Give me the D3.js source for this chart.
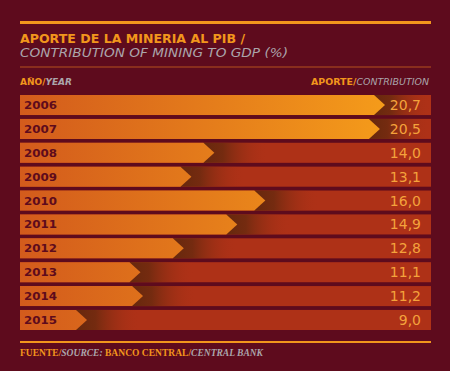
<!DOCTYPE html>
<html>
<head>
<meta charset="utf-8">
<script src="https://cdn.jsdelivr.net/npm/d3@7"></script>
<style>
  html, body { margin: 0; padding: 0; background: #5e0b1d; }
  svg { display: block; }
</style>
</head>
<body>
<div id="chart"></div>
<script>
"use strict";

// data
const years = ["2006", "2007", "2008", "2009", "2010", "2011", "2012", "2013", "2014", "2015"];
const values = [20.7, 20.5, 14.0, 13.1, 16.0, 14.9, 12.8, 11.1, 11.2, 9.0];

const W = 450, H = 371;
const BAR = { x0: 20, x1: 431, top: 95, bottom: 330, head: 11, shade: 65 };

const svg = d3.select("#chart").append("svg")
	.attr("width", W)
	.attr("height", H);

svg.append("rect").attr("width", W).attr("height", H).attr("fill", "#5e0b1d");

const defs = svg.append("defs");

// orange arrow fill, over the whole bar width
const ga = defs.append("linearGradient")
	.attr("id", "arrowGrad")
	.attr("gradientUnits", "userSpaceOnUse")
	.attr("x1", BAR.x0).attr("x2", 390).attr("y1", 0).attr("y2", 0);
ga.append("stop").attr("offset", "0%").attr("stop-color", "#d35b1c");
ga.append("stop").attr("offset", "100%").attr("stop-color", "#f59c1a");

// dark shadow behind arrow head
const gs = defs.append("linearGradient").attr("id", "shadeGrad");
gs.append("stop").attr("offset", "0%").attr("stop-color", "#66280d").attr("stop-opacity", 1);
gs.append("stop").attr("offset", "30%").attr("stop-color", "#6e2a0f").attr("stop-opacity", 0.9);
gs.append("stop").attr("offset", "100%").attr("stop-color", "#ae3117").attr("stop-opacity", 0);

// top rule + titles
svg.append("rect").attr("x", 20).attr("y", 21).attr("width", 411).attr("height", 3).attr("fill", "#f2961c");

svg.append("text")
	.attr("x", 20).attr("y", 43)
	.attr("font-family", "'DejaVu Sans', sans-serif")
	.attr("font-weight", "bold")
	.attr("font-size", 13)
	.attr("fill", "#f2961c")
	.attr("textLength", 225)
	.attr("lengthAdjust", "spacingAndGlyphs")
	.text("APORTE DE LA MINERIA AL PIB /");

svg.append("text")
	.attr("x", 20).attr("y", 57)
	.attr("font-family", "'DejaVu Sans', sans-serif")
	.attr("font-style", "italic")
	.attr("font-size", 13)
	.attr("fill", "#aba5ab")
	.attr("textLength", 268)
	.attr("lengthAdjust", "spacingAndGlyphs")
	.text("CONTRIBUTION OF MINING TO GDP (%)");

svg.append("rect").attr("x", 20).attr("y", 66.5).attr("width", 411).attr("height", 1).attr("fill", "#b4521e");

// column headers
const hl = svg.append("text")
	.attr("x", 20).attr("y", 85)
	.attr("font-family", "'DejaVu Sans', sans-serif")
	.attr("font-weight", "bold")
	.attr("font-size", 8.5)
	.attr("textLength", 52)
	.attr("lengthAdjust", "spacingAndGlyphs");
hl.append("tspan").attr("fill", "#f2961c").text("AÑO/");
hl.append("tspan").attr("fill", "#aba5ab").attr("font-style", "italic").text("YEAR");

const hr = svg.append("text")
	.attr("x", 311).attr("y", 85)
	.attr("font-family", "'DejaVu Sans', sans-serif")
	.attr("font-weight", "bold")
	.attr("font-size", 8.5)
	.attr("textLength", 118)
	.attr("lengthAdjust", "spacingAndGlyphs");
hr.append("tspan").attr("fill", "#f2961c").text("APORTE/");
hr.append("tspan").attr("fill", "#aba5ab").attr("font-style", "italic").attr("font-weight", "normal").text("CONTRIBUTION");

// scales
const y = d3.scaleBand()
	.domain(years)
	.range([BAR.top, BAR.bottom])
	.paddingInner(0.16)
	.paddingOuter(0);

const x = d3.scaleLinear()
	.domain([9, 20.7])
	.range([87, 385]);

const rows = svg.append("g").selectAll("g")
	.data(years.map((yr, i) => ({ year: yr, value: values[i] })))
	.join("g")
	.attr("transform", d => `translate(0,${y(d.year)})`);

const bh = y.bandwidth();

rows.append("rect")
	.attr("x", BAR.x0).attr("y", 0)
	.attr("width", BAR.x1 - BAR.x0).attr("height", bh)
	.attr("fill", "#ae3117");

rows.append("rect")
	.attr("x", d => x(d.value) - BAR.head)
	.attr("y", 0)
	.attr("width", d => Math.min(BAR.shade, BAR.x1 - x(d.value) + BAR.head))
	.attr("height", bh)
	.attr("fill", "url(#shadeGrad)");

rows.append("path")
	.attr("fill", "url(#arrowGrad)")
	.attr("d", d => {
		const tip = x(d.value), sh = tip - BAR.head;
		return `M${BAR.x0},0H${sh}L${tip},${bh / 2}L${sh},${bh}H${BAR.x0}Z`;
	});

rows.append("text")
	.attr("x", 24).attr("y", bh / 2 + 4)
	.attr("font-family", "'DejaVu Sans', sans-serif")
	.attr("font-weight", "bold")
	.attr("font-size", 11)
	.attr("fill", "#5e0b1d")
	.attr("textLength", 33)
	.attr("lengthAdjust", "spacingAndGlyphs")
	.text(d => d.year);

const fmt = d3.format(".1f");
rows.append("text")
	.attr("x", 421).attr("y", bh / 2 + 5)
	.attr("text-anchor", "end")
	.attr("font-family", "'DejaVu Sans', sans-serif")
	.attr("font-size", 14)
	.attr("fill", "#f4a23c")
	.text(d => fmt(d.value).replace(".", ","));

// footer
svg.append("rect").attr("x", 20).attr("y", 341).attr("width", 411).attr("height", 2).attr("fill", "#f2961c");

const ft = svg.append("text")
	.attr("x", 20).attr("y", 356)
	.attr("font-family", "'Liberation Serif', serif")
	.attr("font-weight", "bold")
	.attr("font-size", 9.5)
	.attr("textLength", 243)
	.attr("lengthAdjust", "spacingAndGlyphs");
ft.append("tspan").attr("fill", "#f2961c").text("FUENTE/");
ft.append("tspan").attr("fill", "#aba5ab").attr("font-style", "italic").text("SOURCE:");
ft.append("tspan").attr("fill", "#f2961c").text(" BANCO CENTRAL/");
ft.append("tspan").attr("fill", "#aba5ab").attr("font-style", "italic").text("CENTRAL BANK");
</script>
</body>
</html>
